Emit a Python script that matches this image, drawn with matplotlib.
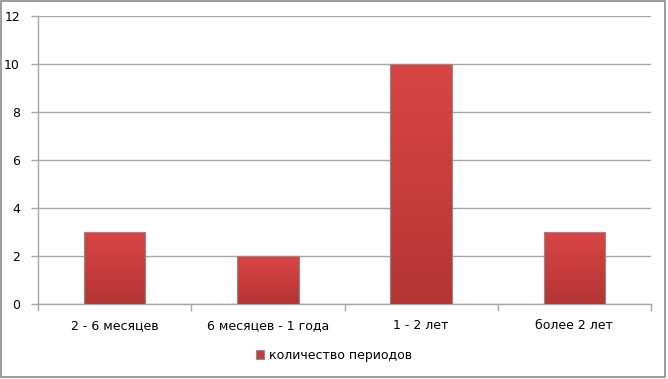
import numpy as np
import matplotlib.pyplot as plt
from matplotlib.patches import Rectangle
from matplotlib.colors import LinearSegmentedColormap

categories = ['2 - 6 месяцев', '6 месяцев - 1 года', '1 - 2 лет', 'более 2 лет']
values = [3, 2, 10, 3]
series_name = 'количество периодов'

plt.rcParams['font.family'] = ['DejaVu Sans']
plt.rcParams['font.size'] = 9

fig = plt.figure(figsize=(6.68, 3.79), dpi=100)
ax = fig.add_axes([38 / 668, 1 - 304 / 379, 613 / 668, 288 / 379])

grid_col = '#a6a6a6'
x = np.arange(len(categories))
bars = ax.bar(x, values, width=0.4, color='#c63b3c', edgecolor='#8c8c8c',
              linewidth=0.8, zorder=3, label=series_name)

# subtle vertical gradient inside each bar, drawn on top of the flat fill
cmap = LinearSegmentedColormap.from_list('redgrad', ['#b53535', '#c83d3d', '#d84545'])
grad = np.linspace(0, 1, 256).reshape(-1, 1)
for b in bars:
    x0, w, h = b.get_x(), b.get_width(), b.get_height()
    im = ax.imshow(grad, cmap=cmap, origin='lower', aspect='auto',
                   extent=[x0, x0 + w, 0, h], zorder=3.1, interpolation='bilinear')
    im.set_clip_path(b)
    ax.add_patch(Rectangle((x0, 0), w, h, fill=False, edgecolor='#8c8c8c',
                           linewidth=0.8, zorder=3.2))

ax.set_xlim(-0.5, len(categories) - 0.5)
ax.set_ylim(0, 12)
ax.set_aspect('auto')
ax.set_yticks(range(0, 13, 2))
ax.yaxis.grid(True, color=grid_col, linewidth=1)
ax.set_axisbelow(True)

ax.set_xticks(np.arange(-0.5, len(categories), 1), minor=False)
ax.set_xticklabels([])
ax.set_xticks(x, minor=True)
ax.set_xticklabels(categories, minor=True)
ax.tick_params(axis='x', which='minor', length=0, pad=11, labelsize=9)
ax.tick_params(axis='x', which='major', length=5, color=grid_col, width=1)
ax.tick_params(axis='y', length=5, color=grid_col, width=1, pad=8, labelsize=9)

for s in ['top', 'right']:
    ax.spines[s].set_visible(False)
for s in ['left', 'bottom']:
    ax.spines[s].set_color(grid_col)
    ax.spines[s].set_linewidth(1)

fig.legend(handles=[bars], labels=[series_name], loc='center',
           bbox_to_anchor=(0.5, 1 - 355 / 379), frameon=False, fontsize=9,
           handlelength=0.7, handleheight=0.7, handletextpad=0.4)

fig.patches.append(Rectangle((0.002, 0.004), 0.994, 0.993, transform=fig.transFigure,
                             fill=False, edgecolor='#8c8c8c', linewidth=1.2))

plt.savefig('out.png', dpi=100)
